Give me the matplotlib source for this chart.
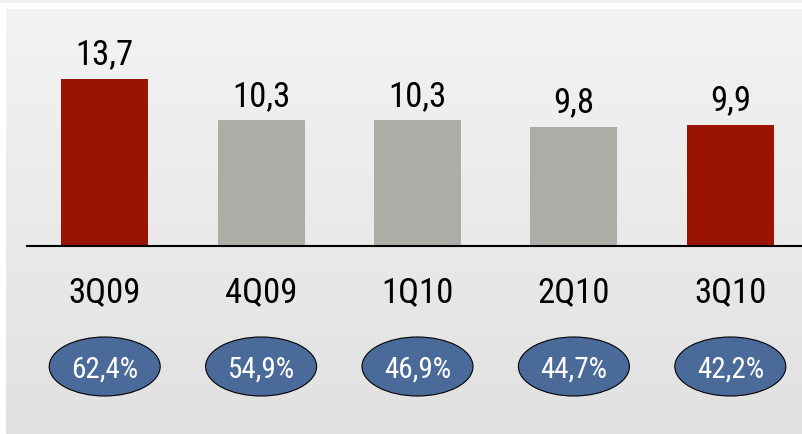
import matplotlib
matplotlib.use("Agg")
import matplotlib.pyplot as plt
import matplotlib.transforms as mtransforms
from matplotlib.patches import Ellipse
import numpy as np

quarters = ["3Q09", "4Q09", "1Q10", "2Q10", "3Q10"]
values = [13.7, 10.3, 10.3, 9.8, 9.9]
value_labels = ["13,7", "10,3", "10,3", "9,8", "9,9"]
ratio_labels = ["62,4%", "54,9%", "46,9%", "44,7%", "42,2%"]
highlight = [True, False, False, False, True]

RED = "#9b1403"
GREY = "#adada8"
BLUE = "#4a6a9a"

plt.rcParams["font.family"] = ["Roboto Condensed", "Liberation Sans", "DejaVu Sans"]

W, H = 803, 434
fig = plt.figure(figsize=(W / 100, H / 100), dpi=100)
fig.patch.set_facecolor("white")

# background: thin strip at top + gradient panel
bg = fig.add_axes([0, 0, 1, 1], zorder=0)
bg.axis("off")
bg.fill_between([0, W], 0, 3, color="#f0f0f0", lw=0)
grad = np.linspace(0, 1, 200).reshape(-1, 1)
top_c = np.array([0.953, 0.953, 0.953])
bot_c = np.array([0.882, 0.882, 0.882])
img = top_c + (bot_c - top_c) * grad[..., None]
img = np.repeat(img, 2, axis=1)
bg.imshow(img, extent=[6, W, H, 9], aspect="auto", interpolation="bilinear")
bg.set_xlim(0, W)
bg.set_ylim(H, 0)

# bar axes
px_per_unit = 12.19
base_y = 246
left_px, right_px = 26.5, 808.5
ax = fig.add_axes([left_px / W, (H - base_y) / H, (right_px - left_px) / W, (base_y - 9) / H], zorder=1)
ax.set_xlim(-0.5, 4.5)
ax.set_ylim(0, (base_y - 9) / px_per_unit)
ax.patch.set_alpha(0)
for s in ["top", "right", "left"]:
    ax.spines[s].set_visible(False)
ax.spines["bottom"].set_color("black")
ax.spines["bottom"].set_linewidth(1.5)
ax.set_xticks([])
ax.set_yticks([])

x = np.arange(len(quarters))
colors = [RED if h else GREY for h in highlight]
bars = ax.bar(x, values, width=0.556, color=colors, zorder=2)
for b, lab in zip(bars, value_labels):
    ax.annotate(lab, (b.get_x() + b.get_width() / 2, b.get_height()),
                xytext=(0, 5.5), textcoords="offset points",
                ha="center", va="bottom", fontsize=25, color="black")

trans = mtransforms.blended_transform_factory(ax.transData, fig.transFigure)
for xi, q, r in zip(x, quarters, ratio_labels):
    ax.text(xi, (H - 293) / H, q, transform=trans, ha="center", va="center",
            fontsize=25, color="black", clip_on=False)
    e = Ellipse((xi, (H - 366.5) / H), width=111 / 156.4, height=59 / H,
                transform=trans, facecolor=BLUE, edgecolor="black", lw=0.8,
                clip_on=False, zorder=3)
    ax.add_patch(e)
    ax.text(xi, (H - 370) / H, r, transform=trans, ha="center", va="center",
            fontsize=21, color="white", clip_on=False, zorder=4)

fig.savefig("out.png", dpi=100)
